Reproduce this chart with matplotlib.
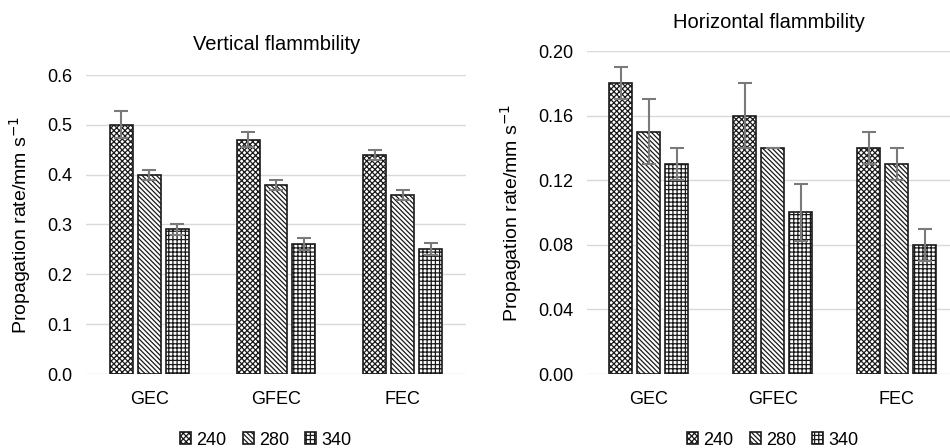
import matplotlib
matplotlib.use("Agg")
import matplotlib.pyplot as plt
import numpy as np

plt.rcParams['font.family'] = ['Liberation Sans', 'DejaVu Sans']
plt.rcParams['hatch.linewidth'] = 0.9

categories = ["GEC", "GFEC", "FEC"]
series = ["240", "280", "340"]

vert_vals = {"240": [0.50, 0.47, 0.44], "280": [0.40, 0.38, 0.36], "340": [0.29, 0.26, 0.25]}
vert_err = {"240": [0.027, 0.015, 0.010], "280": [0.010, 0.010, 0.010], "340": [0.012, 0.012, 0.012]}
hor_vals = {"240": [0.18, 0.16, 0.14], "280": [0.15, 0.14, 0.13], "340": [0.13, 0.10, 0.08]}
hor_err = {"240": [0.010, 0.020, 0.010], "280": [0.020, 0.0, 0.010], "340": [0.010, 0.0175, 0.010]}

hatches = {"240": "xxxxxx", "280": "\\\\\\\\\\\\\\", "340": "++++"}

fig = plt.figure(figsize=(9.5, 4.48), dpi=100)
W, H = 950, 448

def make_ax(x0, x1, ytop, ybot):
    return fig.add_axes([x0 / W, 1 - ybot / H, (x1 - x0) / W, (ybot - ytop) / H])

ax1 = make_ax(86, 466, 75, 374)
ax2 = make_ax(587, 950, 51, 374)

def draw(ax, vals, errs, ymax, yticks, fmt, w, gap, xlim):
    x = np.arange(len(categories))
    handles = []
    for i, s in enumerate(series):
        b = ax.bar(x + (i - 1) * gap, vals[s], w, color="white", edgecolor="#1a1a1a",
                   hatch=hatches[s], linewidth=1.2, label=s, zorder=2)
        ax.errorbar(x + (i - 1) * gap, vals[s], yerr=errs[s], fmt="none",
                    ecolor="#7a7a7a", elinewidth=1.5, capsize=5, capthick=1.5, zorder=3)
        handles.append(b)
    ax.set_xlim(*xlim)
    ax.set_ylim(0, ymax)
    ax.set_yticks(yticks)
    ax.set_yticklabels([fmt.format(t) for t in yticks], fontsize=13)
    ax.set_xticks(x)
    ax.set_xticklabels(categories, fontsize=13)
    ax.tick_params(axis="both", length=0, pad=10)
    ax.tick_params(axis="x", pad=12)
    ax.grid(axis="y", color="#d9d9d9", linewidth=1.0, zorder=0)
    ax.set_axisbelow(True)
    for sp in ax.spines.values():
        sp.set_visible(False)
    ax.set_ylabel("Propagation rate/mm s$^{-1}$", fontsize=14, labelpad=10)
    return handles

h1 = draw(ax1, vert_vals, vert_err, 0.6, [0.0, 0.1, 0.2, 0.3, 0.4, 0.5, 0.6], "{:.1f}",
          0.18, 0.22, (-0.5, 2.5))
h2 = draw(ax2, hor_vals, hor_err, 0.20, [0.0, 0.04, 0.08, 0.12, 0.16, 0.20], "{:.2f}",
          0.185, 0.226, (-0.5, 2.43))

fig.text(277 / W, 1 - 44 / H, "Vertical flammbility", ha="center", va="center", fontsize=14.5)
fig.text(769 / W, 1 - 22 / H, "Horizontal flammbility", ha="center", va="center", fontsize=14.5)

leg_kw = dict(ncol=3, frameon=False, fontsize=13, handlelength=0.6, handleheight=0.6,
              handletextpad=0.3, columnspacing=0.9, loc="center")
fig.legend(h1, series, bbox_to_anchor=(266 / W, 1 - 440 / H), **leg_kw)
fig.legend(h2, series, bbox_to_anchor=(773 / W, 1 - 440 / H), **leg_kw)

fig.savefig("out.png", dpi=100)
